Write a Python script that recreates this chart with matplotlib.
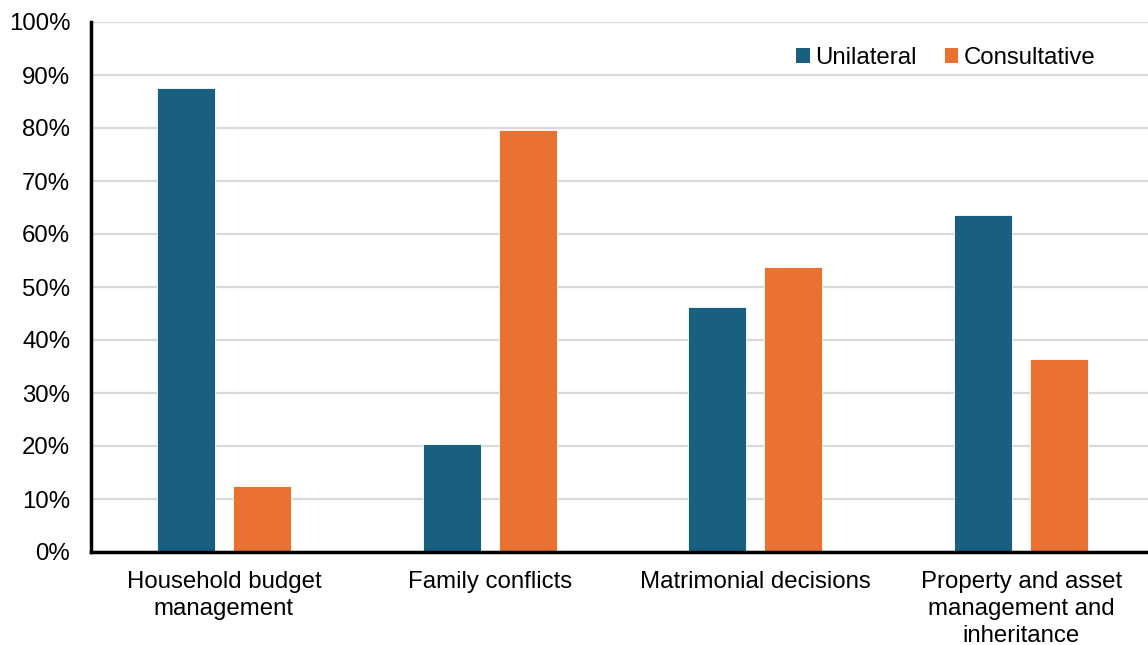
import matplotlib
matplotlib.use("Agg")
import matplotlib.pyplot as plt
from matplotlib.patches import Patch
import numpy as np

categories = ["Household budget\nmanagement", "Family conflicts",
              "Matrimonial decisions", "Property and asset\nmanagement and\ninheritance"]
unilateral = [87.5, 20.4, 46.3, 63.6]
consultative = [12.5, 79.6, 53.7, 36.4]
series_names = ["Unilateral", "Consultative"]
colors = ["#185F80", "#E97132"]
yticks = list(range(0, 101, 10))

plt.rcParams["font.family"] = ["Liberation Sans", "DejaVu Sans"]
FS = 17.3

W, H = 1148, 645
fig = plt.figure(figsize=(W / 100, H / 100), dpi=100)
ax = fig.add_axes([91 / W, 1 - 552 / H, 1063 / W, 530 / H])

x = np.arange(len(categories))
bw = 0.218
off = 0.143
ax.bar(x - off, unilateral, bw, color=colors[0], edgecolor="white", linewidth=0.6, zorder=3)
ax.bar(x + off, consultative, bw, color=colors[1], edgecolor="white", linewidth=0.6, zorder=3)

ax.set_xlim(-0.5, len(categories) - 0.5)
ax.set_ylim(0, 100)
ax.set_yticks(yticks)
ax.set_yticklabels([f"{v}%" for v in yticks], fontsize=FS)
ax.set_xticks(x)
ax.set_xticklabels(categories, fontsize=FS, linespacing=1.27)
ax.tick_params(axis="both", length=0)
ax.tick_params(axis="x", pad=14)
ax.tick_params(axis="y", pad=15)
ax.grid(axis="y", color="#D9D9D9", linewidth=1.6, zorder=0)
ax.set_axisbelow(True)
for s in ["top", "right"]:
    ax.spines[s].set_visible(False)
for s in ["left", "bottom"]:
    ax.spines[s].set_color("black")
    ax.spines[s].set_linewidth(2.5)
    ax.spines[s].set_zorder(4)

handles = [Patch(facecolor=c, edgecolor="none") for c in colors]
fig.legend(handles, series_names, loc="center", bbox_to_anchor=(946 / W, 1 - 58 / H),
           ncol=2, frameon=False, fontsize=FS, handlelength=0.55, handleheight=0.55,
           handletextpad=0.25, columnspacing=1.15)

fig.savefig("out.png", dpi=100)
